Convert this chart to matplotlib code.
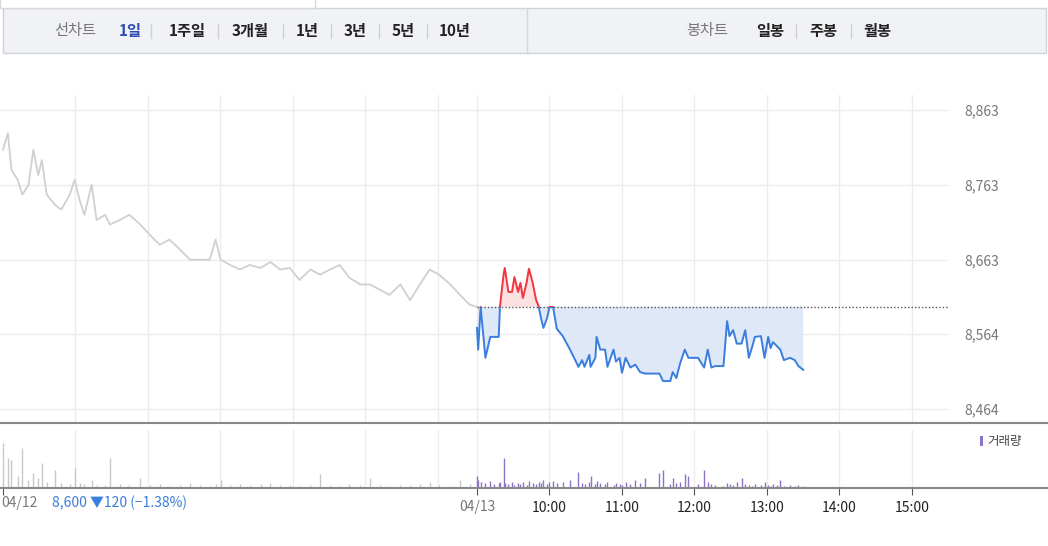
import matplotlib
matplotlib.use("Agg")
import matplotlib.pyplot as plt
import numpy as np
from matplotlib.patches import Rectangle

plt.rcParams['font.family'] = ['Noto Sans CJK KR', 'DejaVu Sans']

ref_price = 8600
y_ticks = [8464, 8564, 8663, 8763, 8863]
time_labels = ["10:00", "11:00", "12:00", "13:00", "14:00", "15:00"]

# previous session: minutes since open (390-minute session)
prev_min = [0,4,7,12,16,21,25,29,32,36,43,48,55,59,63,67,73,77,84,88,96,104,113,121,129,137,146,154,162,170,
            175,179,187,195,203,212,220,228,236,244,253,261,269,277,285,294,302,310,318,327,335,343,351,359,368,376,384,390]
prev_price = [8810,8832,8783,8770,8750,8763,8810,8776,8796,8750,8736,8730,8750,8770,8743,8723,8763,8716,8723,8710,
              8716,8723,8710,8696,8683,8690,8676,8663,8663,8663,8690,8663,8656,8650,8656,8652,8660,8650,8652,8636,
              8650,8643,8650,8656,8639,8630,8630,8623,8616,8630,8609,8630,8650,8643,8630,8616,8603,8600]
prev_vol = [45,30,28,12,40,8,15,10,25,6,18,5,4,20,5,4,8,3,3,30,4,3,10,3,4,2,3,5,3,2,
            4,8,3,4,3,4,5,3,3,2,3,14,3,2,4,3,10,3,2,3,3,4,6,3,2,8,4,3]

# today: minutes since 09:00
today_min = [0,1,3,7,11,14,18,19,22,23,26,29,31,34,36,38,41,43,46,49,51,53,55,58,60,63,66,71,77,84,
             87,89,93,94,98,99,102,106,108,113,115,118,120,123,127,131,135,139,151,154,160,162,165,168,172,175,183,188,191,194,
             197,204,207,209,212,215,219,222,225,228,230,235,238,241,243,245,248,251,254,259,263,266,270]
today_price = [8572,8543,8600,8532,8560,8560,8560,8600,8643,8652,8620,8620,8640,8620,8632,8612,8632,8651,8633,8609,
               8601,8585,8572,8585,8600,8600,8571,8561,8543,8520,8529,8520,8536,8520,8532,8560,8543,8543,8520,8543,
               8527,8532,8512,8532,8519,8523,8513,8511,8511,8501,8501,8513,8505,8524,8543,8532,8532,8519,8543,8519,
               8521,8521,8581,8561,8569,8551,8551,8569,8532,8548,8560,8561,8532,8560,8545,8553,8548,8543,8529,8532,
               8529,8521,8516]
today_vol = [12,8,6,5,7,4,5,6,30,5,4,6,3,5,4,6,3,7,5,4,6,5,8,4,6,7,5,6,8,16,
             5,4,6,12,4,7,5,4,6,3,5,4,3,6,4,8,5,10,15,18,4,10,5,6,14,12,4,18,6,4,
             3,2,5,4,3,6,10,4,3,2,4,3,6,3,2,4,3,8,2,3,2,3,2]

X0 = -6.538
XEND = 7.876
px = np.array(prev_min) / 390 * (-X0) + X0
tx = np.array(today_min) / 60.0
pp = np.array(prev_price); tp = np.array(today_price)

fig = plt.figure(figsize=(10.48, 5.46), dpi=100)
W, H = 1048, 546
def fr(x, y, w, h):
    return [x / W, 1 - (y + h) / H, w / W, h / H]

# top toolbar
bar = fig.add_axes([0, 0, 1, 1], zorder=-1); bar.set_xlim(0, W); bar.set_ylim(H, 0); bar.axis('off')
bar.add_patch(Rectangle((3, 8), 1043, 45, fc='#f0f2f6', ec='#cfd3da', lw=1))
bar.add_patch(Rectangle((0, -2), 315, 10, fc='white', ec='#d8d8d8', lw=1))
bar.plot([527, 527], [8, 53], color='#d3d6dc', lw=1)
items = [("선차트", 75, '#777777', 'normal'), ("1일", 130, '#2f4fb0', 'bold'), ("1주일", 187, '#222222', 'bold'),
         ("3개월", 250, '#222222', 'bold'), ("1년", 307, '#222222', 'bold'), ("3년", 355, '#222222', 'bold'),
         ("5년", 403, '#222222', 'bold'), ("10년", 455, '#222222', 'bold'),
         ("봉차트", 707, '#777777', 'normal'), ("일봉", 770, '#222222', 'bold'), ("주봉", 823, '#222222', 'bold'),
         ("월봉", 877, '#222222', 'bold')]
for t, x, c, w in items:
    bar.text(x, 31, t, color=c, fontsize=11, fontweight=w, ha='center', va='center')
for x in [151, 218, 283, 331, 379, 427, 796, 851]:
    bar.plot([x, x], [24, 38], color='#d0d0d0', lw=1)

# main price axes
ax = fig.add_axes(fr(0, 95, 948, 328))
ax.set_xlim(-6.579, 6.497); ax.set_ylim(8445, 8883)
vgrid = [X0 + k for k in range(1, 7)] + [0, 1, 2, 3, 4, 5, 6]
for v in vgrid:
    ax.axvline(v, color='#ececec', lw=1, zorder=0)
for y in y_ticks:
    ax.axhline(y, color='#ececec', lw=1, zorder=0)
ax.plot(px, pp, color='#d0d0d0', lw=1.3)
ax.plot([0, 6.497], [ref_price, ref_price], color='#555555', lw=1, ls=(0, (1, 1.5)))
ax.fill_between(tx, tp, ref_price, where=tp <= ref_price, interpolate=True, color='#dfe8f7', lw=0)
ax.fill_between(tx, tp, ref_price, where=tp >= ref_price, interpolate=True, color='#fde0e2', lw=0)
lb, = ax.plot(tx, tp, color='#3b7ddd', lw=1.4)
lr, = ax.plot(tx, tp, color='#f2353f', lw=1.4)
lb.set_clip_path(Rectangle((-10, 8000), 30, ref_price - 8000, transform=ax.transData))
lr.set_clip_path(Rectangle((-10, ref_price), 30, 1000, transform=ax.transData))
ax.set_yticks(y_ticks); ax.set_yticklabels([f"{v:,}" for v in y_ticks])
ax.yaxis.tick_right()
ax.tick_params(axis='y', length=0, pad=12, labelsize=10, labelcolor='#777777')
ax.set_xticks([])
for s in ['top', 'left', 'right']:
    ax.spines[s].set_visible(False)
ax.spines['bottom'].set_color('#888888'); ax.spines['bottom'].set_linewidth(1.5)
ax.spines['bottom'].set_bounds(-6.579, XEND)
ax.spines['bottom'].set_clip_on(False)

# volume axes
va = fig.add_axes(fr(0, 430, 948, 58))
va.set_xlim(-6.579, 6.497); va.set_ylim(0, 58)
for v in vgrid:
    va.axvline(v, color='#ececec', lw=1, zorder=0)
va.vlines(px, 0, prev_vol, color='#c8c8c8', lw=1)
va.vlines(tx, 0, today_vol, color='#8e72c8', lw=1)
for s in ['top', 'left', 'right']:
    va.spines[s].set_visible(False)
va.spines['bottom'].set_color('#888888'); va.spines['bottom'].set_linewidth(1.5)
va.spines['bottom'].set_bounds(-6.579, XEND); va.spines['bottom'].set_clip_on(False)
va.set_yticks([])
va.set_xticks([X0, 0] + [1, 2, 3, 4, 5, 6])
va.set_xticklabels(["", "04/13"] + time_labels)
va.tick_params(axis='x', length=5, color='#555555', labelsize=10, labelcolor='#222222', pad=4)
va.get_xticklabels()[1].set_color('#777777')
va.text(X0 - 0.02, -15, "04/12", color='#777777', fontsize=10, va='center', ha='left', clip_on=False)
va.text(X0 + 0.67, -15, "8,600 ▼120 (−1.38%)", color='#3b7ddd', fontsize=10, va='center', ha='left',
        clip_on=False)
bar.add_patch(Rectangle((980, 436), 3, 10, fc='#8e72c8', ec='none'))
bar.text(987, 441, "거래량", fontsize=9, color='#444444', va='center', ha='left')

fig.savefig("out.png", dpi=100)
